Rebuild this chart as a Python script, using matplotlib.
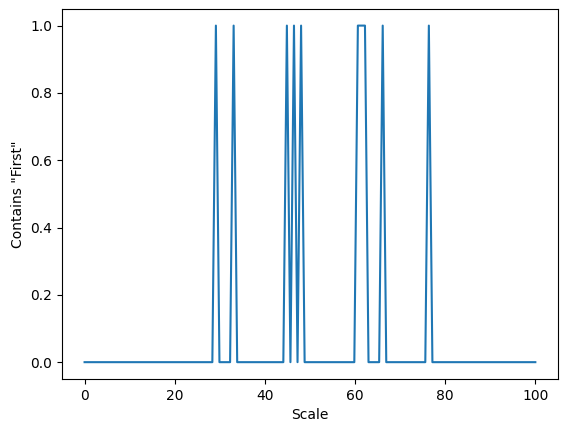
import numpy as np
import matplotlib
matplotlib.use("Agg")
import matplotlib.pyplot as plt

# scale values (128 evenly spaced samples from 0 to 100)
scale = np.linspace(0, 100, 128)
contains_first = [
	0, 0, 0, 0, 0, 0, 0, 0, 0, 0, 0, 0, 0, 0, 0, 0,
	0, 0, 0, 0, 0, 0, 0, 0, 0, 0, 0, 0, 0, 0, 0, 0,
	0, 0, 0, 0, 0, 1, 0, 0, 0, 0, 1, 0, 0, 0, 0, 0,
	0, 0, 0, 0, 0, 0, 0, 0, 0, 1, 0, 1, 0, 1, 0, 0,
	0, 0, 0, 0, 0, 0, 0, 0, 0, 0, 0, 0, 0, 1, 1, 1,
	0, 0, 0, 0, 1, 0, 0, 0, 0, 0, 0, 0, 0, 0, 0, 0,
	0, 1, 0, 0, 0, 0, 0, 0, 0, 0, 0, 0, 0, 0, 0, 0,
	0, 0, 0, 0, 0, 0, 0, 0, 0, 0, 0, 0, 0, 0, 0, 0,
]


def main():
	fig = plt.figure(figsize=(5.67, 4.32), dpi=100)
	ax = fig.add_axes([0.1094, 0.1227, 0.8745, 0.857])
	ax.plot(scale, contains_first)
	ax.set_xlabel("Scale")
	ax.set_ylabel('Contains "First"')
	fig.savefig("out.png", dpi=100)


if __name__ == "__main__":
	main()
